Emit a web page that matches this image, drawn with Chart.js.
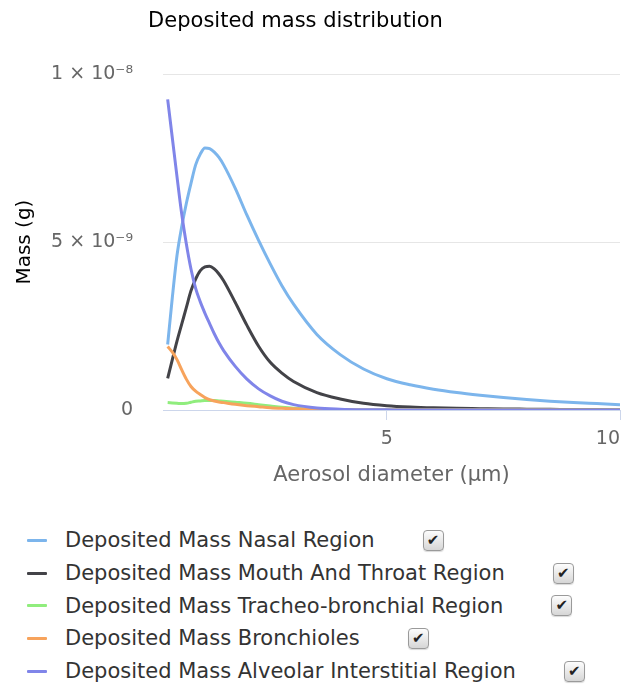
<!DOCTYPE html>
<html>
<head>
<meta charset="utf-8">
<title>Deposited mass distribution</title>
<script src="https://cdn.jsdelivr.net/npm/chart.js@4.4.1/dist/chart.umd.min.js"></script>
<style>
  body { margin: 0; background: #fff; font-family: "DejaVu Sans", sans-serif; }
  #wrap { position: relative; width: 623px; height: 488px; }
  #legend { position: absolute; top: 524px; left: 0; }
  .item { display: flex; align-items: center; height: 32.7px; color: #333; font-size: 21px; }
  .item .sym { display: inline-block; width: 20px; height: 3px; margin-left: 27px; margin-right: 18px; border-radius: 1px; }
  .item .box {
    display: inline-block; width: 19px; height: 19px; margin-left: 48px;
    border: 1px solid #9a9a9a; border-radius: 4px;
    background: linear-gradient(#fdfdfd, #d6d6d6);
    box-shadow: 0 1px 1px rgba(0,0,0,0.15);
    font-size: 15px; line-height: 19px; text-align: center; color: #222;
  }
</style>
</head>
<body>
<div id="wrap"><canvas id="massChart"></canvas></div>
<div id="legend"></div>
<script>
// aerosol diameter (µm) of each sample
const diameters = [0.3, 0.4, 0.5, 0.6, 0.7, 0.8, 0.9, 1.0, 1.1, 1.2, 1.3, 1.4, 1.5,
  1.75, 2.0, 2.25, 2.5, 2.75, 3.0, 3.5, 4.0, 4.5, 5.0, 5.5, 6.0, 6.5, 7.0, 7.5, 8.0, 8.5, 9.0, 9.5, 10.0];

// deposited mass per region, in ng (x 1e-9 g)
const massNasal = [1.95, 3.35, 4.6, 5.45, 6.15, 6.75, 7.3, 7.62, 7.8, 7.78, 7.68, 7.52, 7.3,
  6.6, 5.8, 5.05, 4.35, 3.7, 3.15, 2.25, 1.65, 1.22, 0.93, 0.75, 0.62, 0.52, 0.44, 0.37, 0.31, 0.26, 0.22, 0.19, 0.16];
const massMouthThroat = [0.94, 1.5, 2.05, 2.55, 3.05, 3.55, 3.9, 4.15, 4.26, 4.28, 4.2, 4.05, 3.85,
  3.2, 2.52, 1.9, 1.42, 1.1, 0.85, 0.52, 0.33, 0.2, 0.13, 0.09, 0.065, 0.05, 0.04, 0.03, 0.025, 0.02, 0.015, 0.012, 0.01];
const massTracheoBronchial = [0.22, 0.21, 0.2, 0.19, 0.2, 0.23, 0.26, 0.27, 0.28, 0.28, 0.28, 0.27, 0.26,
  0.23, 0.2, 0.16, 0.12, 0.08, 0.05, 0.02, 0.01, 0, 0, 0, 0, 0, 0, 0, 0, 0, 0, 0, 0];
const massBronchioles = [1.89, 1.72, 1.5, 1.2, 0.92, 0.7, 0.56, 0.46, 0.37, 0.31, 0.27, 0.24, 0.22,
  0.17, 0.13, 0.1, 0.07, 0.05, 0.035, 0.015, 0.005, 0, 0, 0, 0, 0, 0, 0, 0, 0, 0, 0, 0];
const massAlveolar = [9.25, 8.1, 6.95, 5.85, 4.95, 4.2, 3.62, 3.22, 2.88, 2.57, 2.27, 2.0, 1.77,
  1.3, 0.92, 0.63, 0.42, 0.26, 0.16, 0.06, 0.025, 0.01, 0.005, 0, 0, 0, 0, 0, 0, 0, 0, 0, 0];

const seriesNames = [
  "Deposited Mass Nasal Region",
  "Deposited Mass Mouth And Throat Region",
  "Deposited Mass Tracheo-bronchial Region",
  "Deposited Mass Bronchioles",
  "Deposited Mass Alveolar Interstitial Region"
];
const seriesColors = ["#7cb5ec", "#434348", "#90ed7d", "#f7a35c", "#8085e9"];

const xTickValues = [5, 10];
const xTickLabels = ["5", "10"];
const yTickValues = [0, 5e-9, 1e-8];
const yTickLabels = ["0", "5 × 10⁻⁹", "1 × 10⁻⁸"];

const NG = 1e-9;
const FONT = '"DejaVu Sans", sans-serif';

function toPoints(values) {
  return diameters.map((d, i) => ({ x: d, y: values[i] * NG }));
}

const allSeries = [massNasal, massMouthThroat, massTracheoBronchial, massBronchioles, massAlveolar];

const datasets = allSeries.map((values, i) => ({
  label: seriesNames[i],
  data: toPoints(values),
  borderColor: seriesColors[i],
  backgroundColor: seriesColors[i],
  borderWidth: 3,
  pointRadius: 0,
  fill: false,
  cubicInterpolationMode: "monotone",
  order: allSeries.length - i   // later series on top
}));

function buildLegend(chart) {
  const legend = document.getElementById("legend");
  legend.innerHTML = "";
  chart.data.datasets.forEach(ds => {
    const row = document.createElement("div");
    row.className = "item";
    row.innerHTML = `
      <span class="sym" style="background:${ds.borderColor}"></span>
      <span class="txt">${ds.label}</span>
      <span class="box">✔</span>
    `;
    legend.appendChild(row);
  });
}

document.addEventListener("DOMContentLoaded", () => {
  const ctx = document.getElementById("massChart").getContext("2d");
  const chart = new Chart(ctx, {
    type: "line",
    data: { datasets },
    options: {
      responsive: true,
      maintainAspectRatio: false,
      animation: false,
      layout: { padding: { left: 13, right: 3, top: 9, bottom: 0 } },
      plugins: {
        legend: { display: false },
        tooltip: { enabled: false },
        title: {
          display: true,
          // en spaces nudge the centred title a little to the left
          text: "Deposited mass distribution\u2002\u2002\u2002\u2002",
          color: "#000",
          font: { family: FONT, size: 21, weight: "normal" },
          padding: { top: 0, bottom: 40 }
        }
      },
      scales: {
        x: {
          type: "linear",
          min: 0.2,
          max: 10,
          afterBuildTicks: scale => { scale.ticks = xTickValues.map(v => ({ value: v })); },
          afterFit: scale => { scale.paddingRight = 0; },
          grid: { drawOnChartArea: false, drawTicks: true, tickLength: 10, color: "#ccd6eb" },
          border: { color: "#ccd6eb", width: 1 },
          ticks: {
            color: "#666",
            font: { family: FONT, size: 19 },
            padding: 8,
            maxRotation: 0,
            // pad the last label so it stays inside the canvas
            callback: (v, i) => i === xTickLabels.length - 1 ? xTickLabels[i] + "    " : xTickLabels[i]
          },
          title: {
            display: true,
            text: "Aerosol diameter (μm)",
            color: "#666",
            font: { family: FONT, size: 21 },
            padding: { top: 4, bottom: 0 }
          }
        },
        y: {
          min: 0,
          max: 1e-8,
          afterBuildTicks: scale => { scale.ticks = yTickValues.map(v => ({ value: v })); },
          afterFit: scale => { scale.width = 150; },
          grid: {
            drawTicks: false,
            color: c => (c.tick && c.tick.value === 0) ? "rgba(0,0,0,0)" : "#e6e6e6"
          },
          border: { display: false },
          ticks: {
            color: "#666",
            font: { family: FONT, size: 19 },
            padding: 30,
            callback: (v, i) => yTickLabels[i]
          },
          title: {
            display: true,
            text: "Mass (g)",
            color: "#000",
            font: { family: FONT, size: 20 },
            padding: { top: 0, bottom: 10 }
          }
        }
      }
    }
  });
  buildLegend(chart);
});
</script>
</body>
</html>
